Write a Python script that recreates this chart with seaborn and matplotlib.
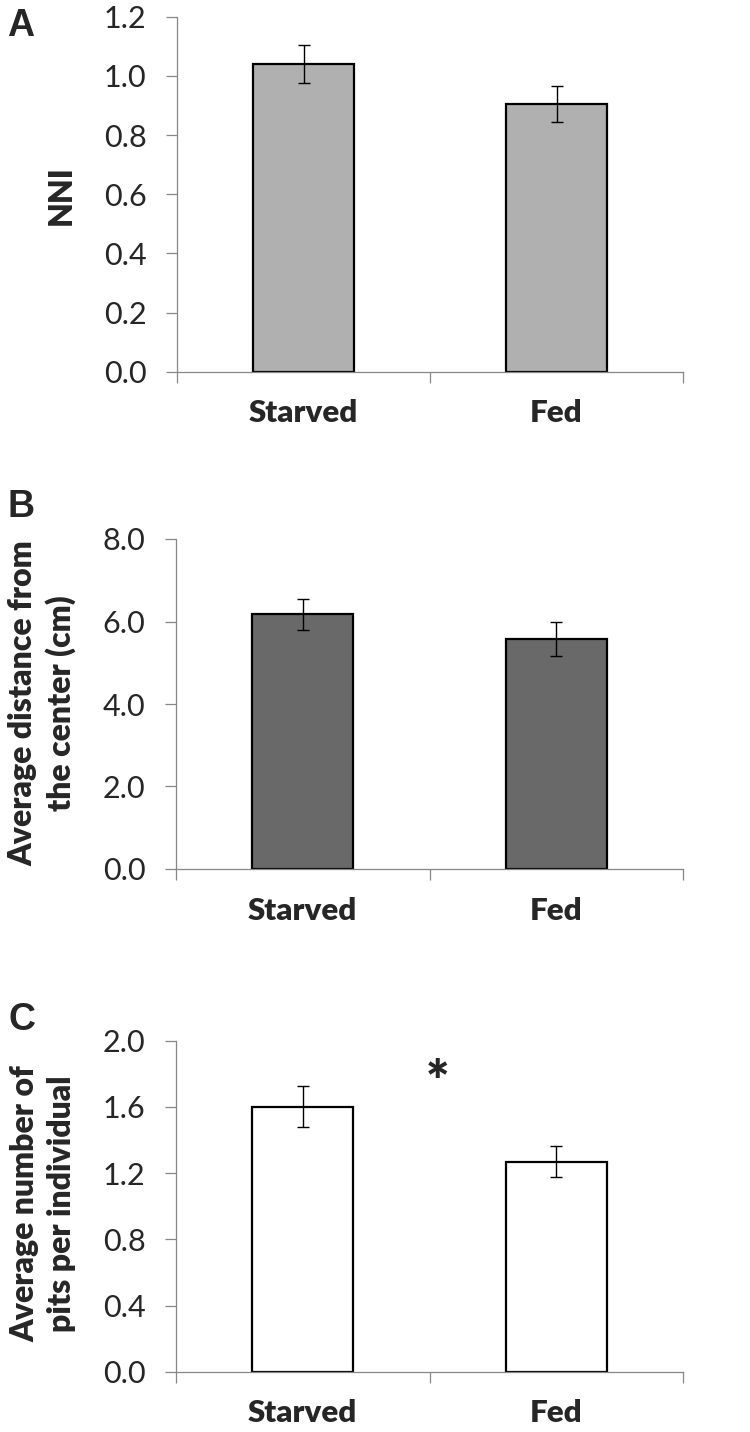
import matplotlib
matplotlib.use("Agg")
import matplotlib.pyplot as plt
import seaborn as sns
import pandas as pd
from matplotlib.ticker import FormatStrFormatter, FixedLocator

categories = ["Starved", "Fed"]
nni_mean = [1.04, 0.905]
nni_err = [0.064, 0.060]
dist_mean = [6.17, 5.57]
dist_err = [0.37, 0.41]
pits_mean = [1.60, 1.27]
pits_err = [0.124, 0.092]

panel_letters = ["A", "B", "C"]
ylabels = ["NNI", "Average distance from\nthe center (cm)", "Average number of\npits per individual"]
ylims = [(0, 1.2), (0, 8.0), (0, 2.0)]
ysteps = [0.2, 2.0, 0.4]
bar_colors = ["#b0b0b0", "#696969", "#ffffff"]

sns.set_style("white")
plt.rcParams["font.family"] = ["Lato", "DejaVu Sans"]

W, H = 750, 1432
fig = plt.figure(figsize=(W / 100, H / 100), dpi=100)

# axes boxes in pixels: left, right, bottom, top
boxes = [(177, 683, 371.7, 16.7), (176, 683, 869, 539), (176, 683, 1371.7, 1040.7)]
ylabel_pos = [(61, 195), (42, 703), (43, 1204)]
letter_pos = [(7, 26), (8, 507), (8, 1020)]

means = [nni_mean, dist_mean, pits_mean]
errs = [nni_err, dist_err, pits_err]
spine_col = "#878787"

for i in range(3):
    l, r, b, t = boxes[i]
    ax = fig.add_axes([l / W, 1 - b / H, (r - l) / W, (b - t) / H])
    df = pd.DataFrame({"cat": categories, "val": means[i]})
    sns.barplot(data=df, x="cat", y="val", ax=ax, color=bar_colors[i],
                width=0.4, edgecolor="black", linewidth=1.6, errorbar=None,
                saturation=1)
    ax.errorbar(range(len(categories)), means[i], yerr=errs[i], fmt="none",
                ecolor="black", elinewidth=1.0, capsize=4.3, capthick=1.0, zorder=5)
    ax.set_xlim(-0.5, 1.5)
    ax.set_ylim(*ylims[i])
    lo, hi = ylims[i]
    n = int(round((hi - lo) / ysteps[i]))
    ax.yaxis.set_major_locator(FixedLocator([lo + k * ysteps[i] for k in range(n + 1)]))
    ax.yaxis.set_major_formatter(FormatStrFormatter("%.1f"))
    ax.set_xlabel("")
    ax.set_ylabel("")
    for s in ["top", "right"]:
        ax.spines[s].set_visible(False)
    for s in ["left", "bottom"]:
        ax.spines[s].set_color(spine_col)
        ax.spines[s].set_linewidth(0.9)
    ax.tick_params(axis="y", direction="out", length=8, width=0.9, color=spine_col,
                   labelsize=22, pad=14, left=True)
    ax.set_xticks([0, 1])
    ax.set_xticklabels(categories, fontweight="heavy", fontsize=22.5)
    ax.tick_params(axis="x", which="major", length=0, pad=20)
    ax.xaxis.set_minor_locator(FixedLocator([-0.5, 0.5, 1.5]))
    ax.tick_params(axis="x", which="minor", direction="out", length=8, width=0.9,
                   color=spine_col, bottom=True)
    fig.text(ylabel_pos[i][0] / W, 1 - ylabel_pos[i][1] / H, ylabels[i], rotation=90,
             ha="center", va="center", fontsize=23, fontweight="heavy",
             multialignment="center", linespacing=1.3)
    fig.text(letter_pos[i][0] / W, 1 - letter_pos[i][1] / H, panel_letters[i],
             ha="left", va="center", fontsize=27, fontweight="bold",
             family=["Liberation Sans", "DejaVu Sans"])
    if i == 2:
        ax.text(0.53, 1.74, "*", ha="center", va="center", fontsize=40, fontweight="heavy")

fig.savefig("out.png", dpi=100)
